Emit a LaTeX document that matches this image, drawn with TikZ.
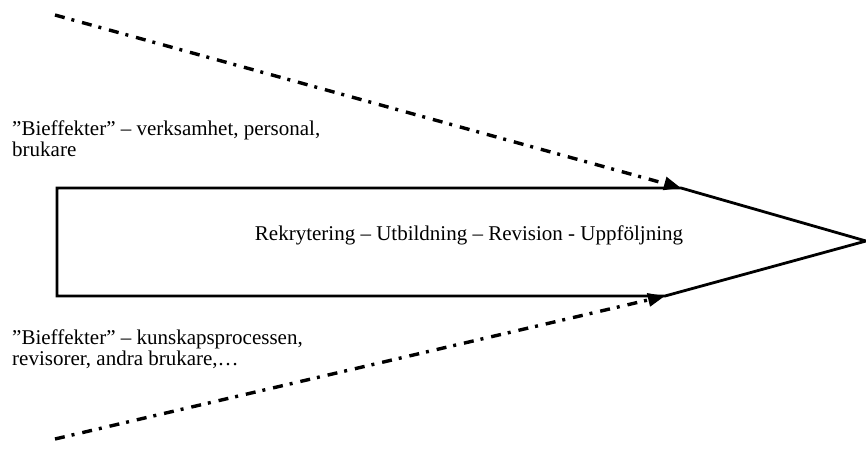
\documentclass[tikz,border=0pt]{standalone}
\usepackage{fontspec}
\setmainfont{Liberation Serif}
\usepackage{tikz}
\usetikzlibrary{positioning}
\usetikzlibrary{arrows.meta}

\begin{document}
\begin{tikzpicture}[x=1pt, y=-1pt, font=\fontsize{21}{21.5}\selectfont,
    solidline/.style={line width=2.8pt, line join=miter},
    dashdot/.style={line width=3.4pt, dash pattern=on 10pt off 7pt on 3pt off 8pt,
      -{Triangle[length=17pt, width=13pt]}},
    sidetext/.style={anchor=north west, align=left, inner sep=0pt}]
      \useasboundingbox (0,0) rectangle (866,471);
      % the process arrow
      \coordinate (nw) at (57,188);
      \coordinate (ne) at (681,188);
      \coordinate (tip) at (866,241);
      \coordinate (se) at (665,296);
      \coordinate (sw) at (57,296);
      \draw[solidline] (ne) -- (nw) -- (sw) -- (se) -- (tip) -- cycle;
      \node (process) at (469,235.5) {Rekrytering -- Utbildning -- Revision - Uppföljning};
      % side effects
      \node[sidetext] (topeffects) at (12,120.5) {”Bieffekter” -- verksamhet, personal,\\brukare};
      \node[sidetext] (boteffects) at (12,329.5) {”Bieffekter” -- kunskapsprocessen,\\revisorer, andra brukare,\dots};
      \coordinate (topstart) at (55,15);
      \coordinate (botstart) at (55,439);
      \draw[dashdot] (topstart) -- (ne);
      \draw[dashdot] (botstart) -- (se);
\end{tikzpicture}
\end{document}
